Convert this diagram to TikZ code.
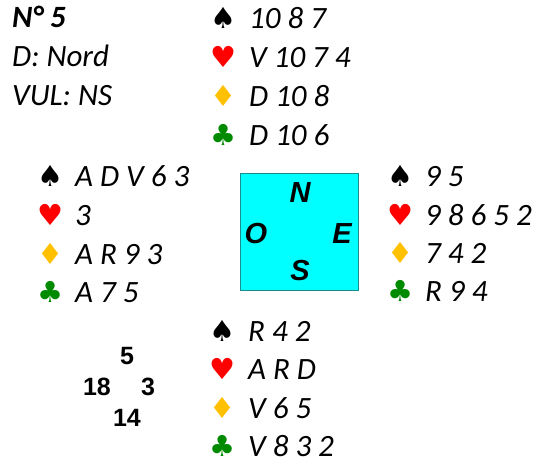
\documentclass[tikz,border=0pt]{standalone}
\usepackage{fontspec}
\setmainfont{Carlito}
\newfontfamily\arialf{Liberation Sans}
\newfontfamily\suitf{DejaVu Sans}
\definecolor{cyanbox}{HTML}{00FFFF}
\definecolor{boxedge}{HTML}{1A8C8C}
\definecolor{diam}{HTML}{FFC000}
\definecolor{clubg}{HTML}{008A00}
\begin{document}
\begin{tikzpicture}[x=1pt,y=-1pt,
  handtxt/.style={anchor=west, inner sep=0pt, font=\fontsize{31}{32}\selectfont\itshape, text height=19pt, text depth=0pt},
  suit/.style={anchor=center, inner sep=0pt, font=\suitf\fontsize{29}{29}\selectfont, text height=19pt, text depth=0pt},
  spd/.style={suit, text=black},
  hrt/.style={suit, text=red},
  dia/.style={suit, text=diam},
  clb/.style={suit, text=clubg},
  compass/.style={anchor=center, inner sep=0pt, font=\arialf\fontsize{29}{29}\selectfont\bfseries\itshape, text height=20pt, text depth=0pt},
  pts/.style={anchor=center, inner sep=0pt, font=\arialf\fontsize{25}{25}\selectfont\bfseries, text height=18pt, text depth=0pt}
]
\useasboundingbox (0,0) rectangle (537,463);
% info
\node[handtxt, font=\fontsize{31}{32}\selectfont\bfseries\itshape] (num) at (12,18) {N° 5};
\node[handtxt] (dealer) at (12,57) {D: Nord};
\node[handtxt] (vul) at (12,96) {VUL: NS};
% North
\node[spd] (ns) at (223,19) {♠};
\node[hrt] (nh) at (223,58) {♥};
\node[dia] (nd) at (223,97) {♦};
\node[clb] (nc) at (223,136) {♣};
\node[handtxt] (nst) at (249,19) {10 8 7};
\node[handtxt] (nht) at (249,58) {V 10 7 4};
\node[handtxt] (ndt) at (249,97) {D 10 8};
\node[handtxt] (nct) at (249,136) {D 10 6};
% West
\node[spd] (ws) at (50,177) {♠};
\node[hrt] (wh) at (50,216) {♥};
\node[dia] (wd) at (50,255) {♦};
\node[clb] (wc) at (50,293) {♣};
\node[handtxt] (wst) at (75,177) {A D V 6 3};
\node[handtxt] (wht) at (75,216) {3};
\node[handtxt] (wdt) at (75,255) {A R 9 3};
\node[handtxt] (wct) at (75,293) {A 7 5};
% East
\node[spd] (es) at (400,177) {♠};
\node[hrt] (eh) at (400,216) {♥};
\node[dia] (ed) at (400,254) {♦};
\node[clb] (ec) at (400,292) {♣};
\node[handtxt] (est) at (425,177) {9 5};
\node[handtxt] (eht) at (425,216) {9 8 6 5 2};
\node[handtxt] (edt) at (425,254) {7 4 2};
\node[handtxt] (ect) at (425,292) {R 9 4};
% South
\node[spd] (ss) at (222,332) {♠};
\node[hrt] (sh) at (222,370) {♥};
\node[dia] (sd) at (222,409) {♦};
\node[clb] (sc) at (222,447) {♣};
\node[handtxt] (sst) at (248,332) {R 4 2};
\node[handtxt] (sht) at (248,370) {A R D};
\node[handtxt] (sdt) at (248,409) {V 6 5};
\node[handtxt] (sct) at (248,447) {V 8 3 2};
% compass box
\node[draw=boxedge, fill=cyanbox, line width=1pt, minimum width=118pt, minimum height=117pt, inner sep=0pt] (box) at (299,231.5) {};
\node[compass] (cn) at (300,192) {N};
\node[compass] (co) at (256,233) {O};
\node[compass] (ce) at (342,233) {E};
\node[compass] (cs) at (300,270) {S};
% points
\node[pts] (pn) at (127,355) {5};
\node[pts] (pw) at (97,386) {18};
\node[pts] (pe) at (148,386) {3};
\node[pts] (ps) at (127,417) {14};
\end{tikzpicture}
\end{document}
